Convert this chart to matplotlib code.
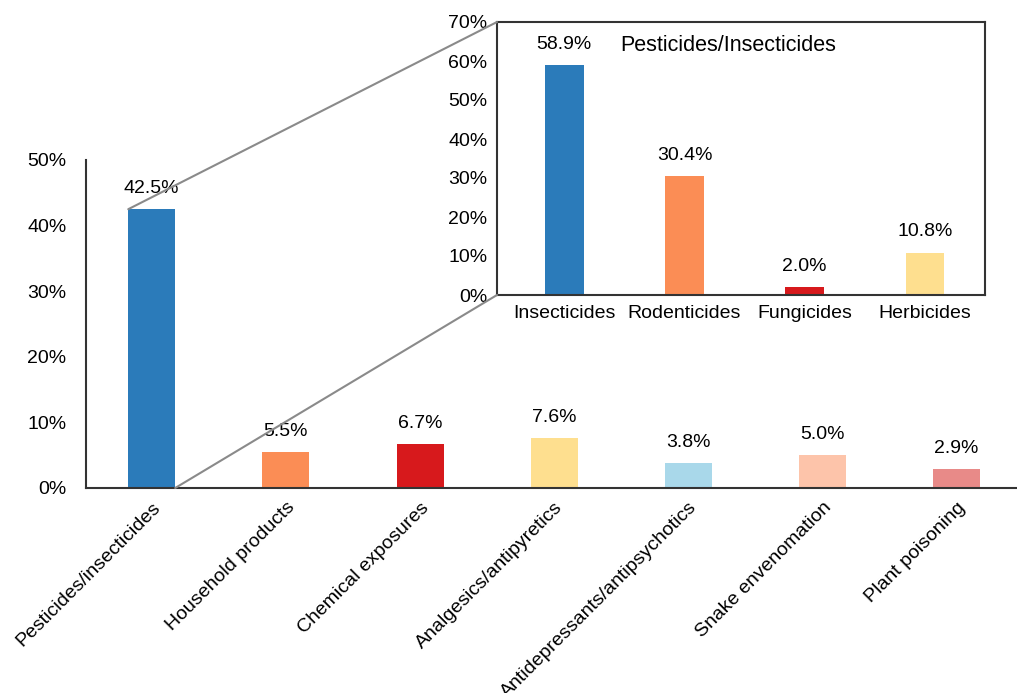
import matplotlib.pyplot as plt
from matplotlib.patches import ConnectionPatch
from matplotlib.ticker import PercentFormatter

plt.rcParams['font.family'] = ['Liberation Sans', 'DejaVu Sans']

categories = ['Pesticides/insecticides', 'Household products', 'Chemical exposures',
              'Analgesics/antipyretics', 'Antidepressants/antipsychotics',
              'Snake envenomation', 'Plant poisoning']
shares = [42.5, 5.5, 6.7, 7.6, 3.8, 5.0, 2.9]
colors = ['#2b7bba', '#fb8d55', '#d7191c', '#fedf8f', '#a9d8ea', '#fdc4aa', '#e88a88']

sub_categories = ['Insecticides', 'Rodenticides', 'Fungicides', 'Herbicides']
sub_shares = [58.9, 30.4, 2.0, 10.8]
sub_colors = ['#2b7bba', '#fb8d55', '#d7191c', '#fedf8f']

W, H = 1017, 693
fig = plt.figure(figsize=(W / 100, H / 100), dpi=100)
fs = 14

# main chart
ax = fig.add_axes([86 / W, 1 - 488 / H, (W - 86) / W, (488 - 160) / H])
x = range(len(categories))
ax.bar(x, shares, width=0.35, color=colors)
for i, v in enumerate(shares):
    ax.text(i, v + 1.8, f'{v:.1f}%', ha='center', va='bottom', fontsize=fs)
ax.set_xlim(-0.49, 6.45)
ax.set_ylim(0, 50)
ax.set_yticks(range(0, 51, 10))
ax.yaxis.set_major_formatter(PercentFormatter(decimals=0))
ax.set_xticks(list(x))
ax.set_xticklabels(categories, rotation=45, ha='right', rotation_mode='anchor', fontsize=fs)
ax.tick_params(length=0, labelsize=fs)
ax.tick_params(axis='y', pad=14)
ax.tick_params(axis='x', pad=8)
for s in ['top', 'right']:
    ax.spines[s].set_visible(False)
for s in ['left', 'bottom']:
    ax.spines[s].set_color('#333333')
    ax.spines[s].set_linewidth(1.5)

# breakdown of pesticides
ins = fig.add_axes([497 / W, 1 - 295 / H, (985 - 497) / W, (295 - 22) / H])
xs = range(len(sub_categories))
ins.bar(xs, sub_shares, width=0.32, color=sub_colors)
for i, v in enumerate(sub_shares):
    ins.text(i, v + 3.2, f'{v:.1f}%', ha='center', va='bottom', fontsize=fs)
ins.set_xlim(-0.56, 3.5)
ins.set_ylim(0, 70)
ins.set_yticks(range(0, 71, 10))
ins.yaxis.set_major_formatter(PercentFormatter(decimals=0))
ins.set_xticks(list(xs))
ins.set_xticklabels(sub_categories, fontsize=fs)
ins.tick_params(length=0, labelsize=fs)
ins.tick_params(axis='y', pad=7)
ins.tick_params(axis='x', pad=7)
ins.text(0.252, 0.915, 'Pesticides/Insecticides', transform=ins.transAxes,
         ha='left', va='center', fontsize=15.5)
for s in ins.spines.values():
    s.set_color('#333333')
    s.set_linewidth(1.5)

# zoom lines from the pesticides bar to the breakdown panel
half = 0.35 / 2
for (xa, ya), (xb, yb) in [((-half, shares[0]), (0, 1)), ((half, 0), (0, 0))]:
    con = ConnectionPatch(xyA=(xa, ya), coordsA=ax.transData,
                          xyB=(xb, yb), coordsB=ins.transAxes,
                          color='#8a8a8a', linewidth=1.5)
    fig.add_artist(con)

fig.savefig('out.png', dpi=100)
